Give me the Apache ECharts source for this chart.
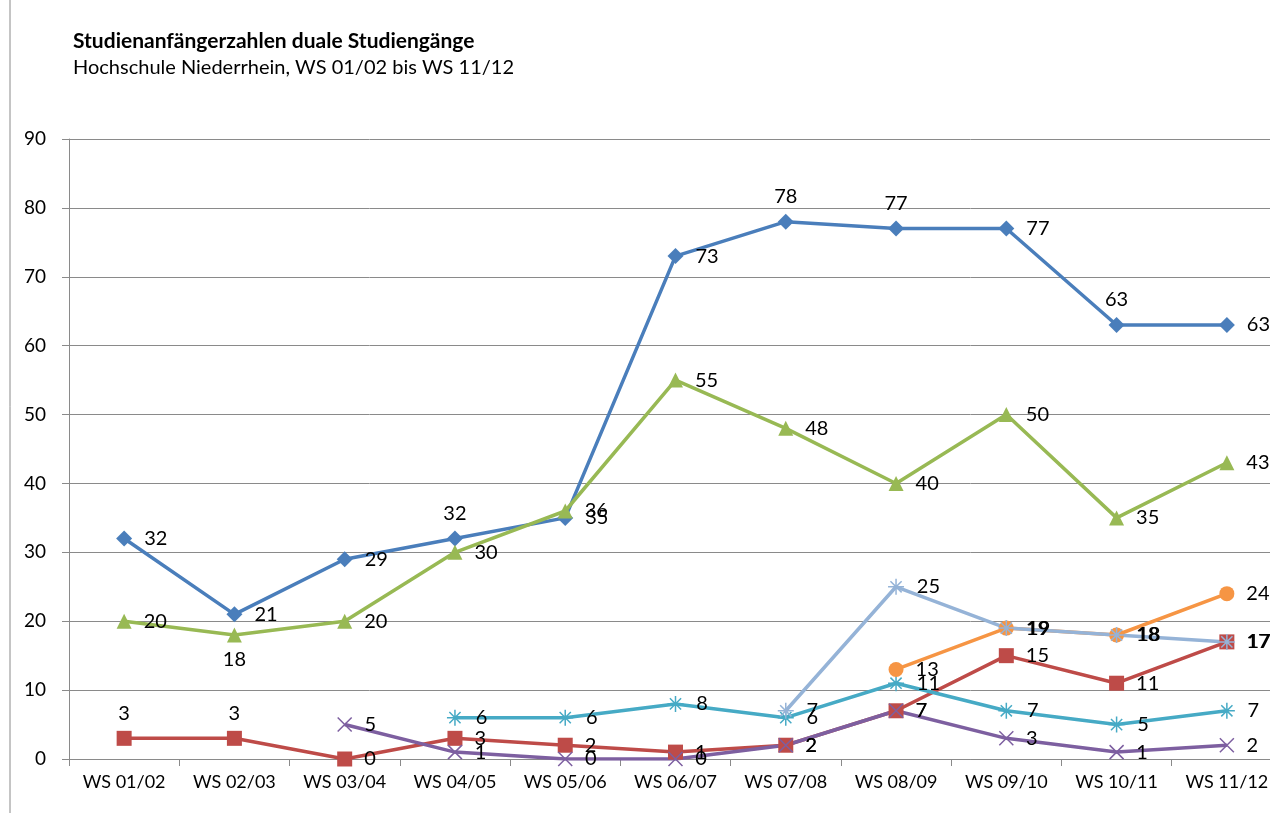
<!DOCTYPE html>
<html>
<head>
<meta charset="utf-8">
<script src="https://cdn.jsdelivr.net/npm/echarts@6/dist/echarts.min.js"></script>
<style>
  html, body { margin: 0; padding: 0; background: #fff; }
  #main { width: 1270px; height: 813px; }
</style>
</head>
<body>
<div id="main"></div>
<script>
var semester = ['WS 01/02','WS 02/03','WS 03/04','WS 04/05','WS 05/06','WS 06/07','WS 07/08','WS 08/09','WS 09/10','WS 10/11','WS 11/12'];

var blau    = [32, 21, 29, 32, 35, 73, 78, 77, 77, 63, 63];
var gruen   = [20, 18, 20, 30, 36, 55, 48, 40, 50, 35, 43];
var rot     = [3, 3, 0, 3, 2, 1, 2, 7, 15, 11, 17];
var lila    = [null, null, 5, 1, 0, 0, 2, 7, 3, 1, 2];
var tuerkis = [null, null, null, 6, 6, 8, 6, 11, 7, 5, 7];
var orange  = [null, null, null, null, null, null, null, 13, 19, 18, 24];
var hellblau = [null, null, null, null, null, null, 7, 25, 19, 18, 17];

// label placement exceptions (index -> position), default right
var blauLabelTop = [3, 6, 7, 9];
var gruenLabelBottom = [1];
var rotLabelTop = [0, 1];

var FONT = 'Lato, "Open Sans", sans-serif';
var STAR = 'path://M5,0 L5,10 M0,5 L10,5 M1.5,1.5 L8.5,8.5 M8.5,1.5 L1.5,8.5';

function points(values, special, pos) {
  return values.map(function (v, i) {
    if (special && special.indexOf(i) >= 0) {
      return { value: v, label: { position: pos, distance: 7 } };
    }
    return v;
  });
}

function reihe(name, values, color, symbol, size, special, pos) {
  return {
    name: name,
    type: 'line',
    data: points(values, special, pos),
    symbol: symbol,
    symbolSize: size,
    connectNulls: false,
    lineStyle: { color: color, width: 3.5 },
    itemStyle: { color: color },
    label: {
      show: true,
      position: 'right',
      distance: 12,
      color: '#000',
      fontSize: 20,
      fontFamily: FONT
    }
  };
}

var myChart = echarts.init(document.getElementById('main'));
var option = {
  animation: false,
  backgroundColor: '#fff',
  title: {
    text: 'Studienanfängerzahlen duale Studiengänge',
    subtext: 'Hochschule Niederrhein, WS 01/02 bis WS 11/12',
    left: 68,
    top: 26,
    itemGap: 6,
    textStyle: { fontSize: 21, fontWeight: 'bold', color: '#000', fontFamily: FONT },
    subtextStyle: { fontSize: 20, color: '#000', fontFamily: FONT }
  },
  graphic: [{
    type: 'line',
    shape: { x1: 10, y1: 0, x2: 10, y2: 813 },
    style: { stroke: '#8a8a8a', lineWidth: 1 }
  }],
  grid: { left: 69, width: 1213, top: 139, bottom: 54, outerBoundsMode: 'none', containLabel: false },
  xAxis: {
    type: 'category',
    data: semester,
    boundaryGap: true,
    axisLine: { lineStyle: { color: '#8a8a8a', width: 1 } },
    axisTick: { show: true, length: 7, lineStyle: { color: '#8a8a8a' } },
    axisLabel: { color: '#000', fontSize: 18, margin: 14, fontFamily: FONT }
  },
  yAxis: {
    type: 'value',
    min: 0,
    max: 90,
    interval: 10,
    axisLine: { show: true, lineStyle: { color: '#8a8a8a', width: 1 } },
    axisTick: { show: true, length: 7, lineStyle: { color: '#8a8a8a' } },
    splitLine: { lineStyle: { color: '#8a8a8a', width: 1 } },
    axisLabel: { color: '#000', fontSize: 19, margin: 23, fontFamily: FONT }
  },
  series: [
    reihe('Blau', blau, '#4A7EBB', 'diamond', 16, blauLabelTop, 'top'),
    reihe('Grün', gruen, '#98B954', 'triangle', 15, gruenLabelBottom, 'bottom'),
    reihe('Rot', rot, '#BE4B48', 'rect', 15, rotLabelTop, 'top'),
    reihe('Lila', lila, '#7D5FA0', 'path://M0,0 L10,10 M10,0 L0,10', 14),
    reihe('Türkis', tuerkis, '#46AAC5', STAR, 16),
    reihe('Orange', orange, '#F69544', 'circle', 15),
    reihe('Hellblau', hellblau, '#95B3D7', STAR, 16)
  ]
};
// stroke-only symbols need a border colour
option.series.forEach(function (s) {
  if (s.symbol.indexOf('path://') === 0) {
    s.itemStyle.borderColor = s.itemStyle.color;
    s.itemStyle.borderWidth = 1.5;
  }
});
myChart.setOption(option);
</script>
</body>
</html>
